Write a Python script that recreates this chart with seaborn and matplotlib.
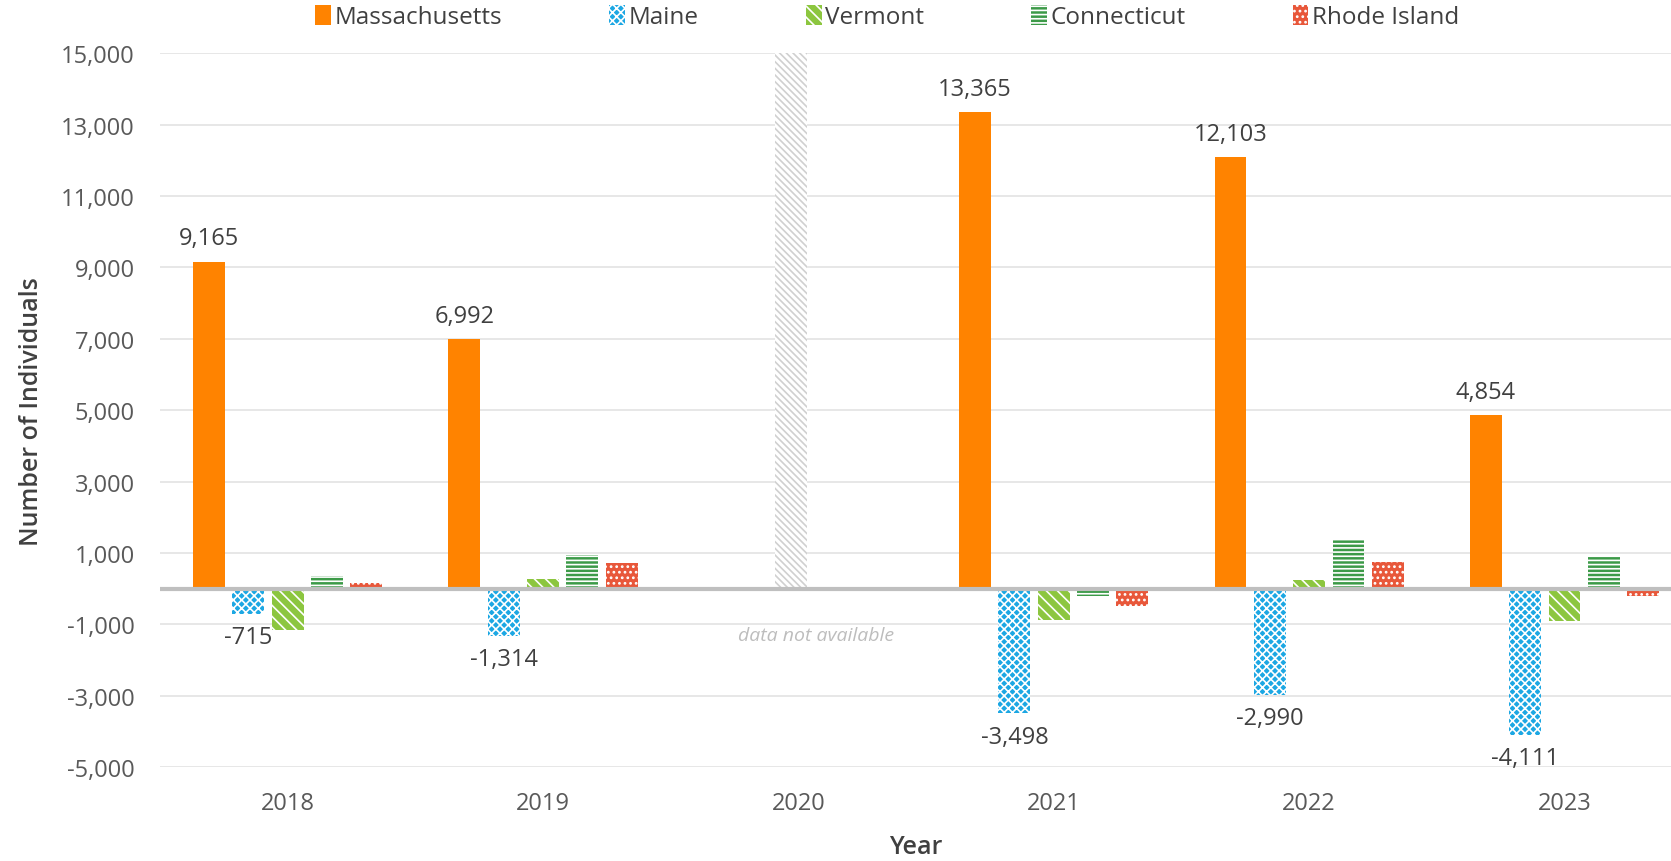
import numpy as np
import pandas as pd
import matplotlib.pyplot as plt
import seaborn as sns
from matplotlib.patches import Patch
from matplotlib.ticker import FuncFormatter

sns.set_theme(style="white")
plt.rcParams['font.family'] = ['Open Sans', 'DejaVu Sans']
plt.rcParams['hatch.linewidth'] = 1.2

# data (2020 not available)
years = ["2018", "2019", "2020", "2021", "2022", "2023"]
data_years = ["2018", "2019", "2021", "2022", "2023"]
states = ["Massachusetts", "Maine", "Vermont", "Connecticut", "Rhode Island"]
massachusetts = [9165, 6992, 13365, 12103, 4854]
maine = [-715, -1314, -3498, -2990, -4111]
vermont = [-1150, 280, -870, 240, -920]
connecticut = [350, 950, -200, 1370, 900]
rhode_island = [170, 720, -500, 750, -200]
missing_year = "2020"
missing_height = 15000

colors = ["#FF8300", "#1CA7E3", "#8CC63F", "#3C9A48", "#E8573A"]
hatches = [None, "xxxx", "\\\\\\", "----", "..."]

df = pd.DataFrame({
    "Year": data_years * 5,
    "State": np.repeat(states, len(data_years)),
    "Value": massachusetts + maine + vermont + connecticut + rhode_island,
})

fig = plt.figure(figsize=(16.71, 8.62), dpi=100)
ax = fig.add_axes([0.0957, 0.109, 0.9043, 0.828])

sns.barplot(data=df, x="Year", y="Value", hue="State", order=years,
            hue_order=states, palette=colors, width=0.77, gap=0.19,
            legend=False, ax=ax, zorder=3)

# restyle bars: coloured fill with white pattern
for cont, col, h in zip(ax.containers, colors, hatches):
    for bar in cont:
        bar.set_facecolor(col)
        bar.set_linewidth(0)
        if h:
            bar.set_hatch(h)
            bar.set_edgecolor("white")
        else:
            bar.set_edgecolor(col)

lbl_kw = dict(fontsize=17, color="#404040", padding=8)
ax.bar_label(ax.containers[0], labels=[f"{v:,}" for v in massachusetts], **lbl_kw)
ax.bar_label(ax.containers[1], labels=[f"{v:,}" for v in maine], **lbl_kw)

# placeholder bar for the missing year
xi = years.index(missing_year)
ax.bar(xi - 0.03, missing_height, width=0.125, facecolor="white", edgecolor="#D0D0D0",
       hatch="\\\\\\\\\\", linewidth=0, zorder=3)
ax.text(xi + 0.07, -1300, "data not available", ha="center", va="center",
        fontsize=14, style="italic", color="#BDBDBD")

ax.axhline(0, color="#BFBFBF", lw=3, zorder=4)
ax.set_ylim(-5000, 15000)
ax.set_xlim(-0.5, 5.417)
ax.set_yticks(np.arange(-5000, 15001, 2000))
ax.yaxis.set_major_formatter(FuncFormatter(lambda v, p: f"{int(v):,}"))
ax.grid(axis="y", color="#E3E3E3", lw=1.2, zorder=0)
ax.set_axisbelow(True)
for s in ax.spines.values():
    s.set_visible(False)
ax.tick_params(axis="both", labelsize=17, colors="#595959", length=0)
ax.tick_params(axis="x", pad=17)
ax.tick_params(axis="y", pad=18)
ax.set_xlabel("Year", fontsize=18, color="#404040", fontweight="semibold", labelpad=14)
ax.set_ylabel("Number of Individuals", fontsize=18, color="#404040",
              fontweight="semibold", labelpad=12)

handles = [Patch(facecolor=c, edgecolor=("white" if h else c), hatch=h, lw=0)
           for c, h in zip(colors, hatches)]
fig.legend(handles, states, loc="center", bbox_to_anchor=(0.531, 0.979), ncol=5,
           frameon=False, fontsize=17.5, handlelength=0.65, handleheight=0.9,
           handletextpad=0.15, columnspacing=4.4, labelcolor="#404040")

fig.savefig("out.png", dpi=100)
